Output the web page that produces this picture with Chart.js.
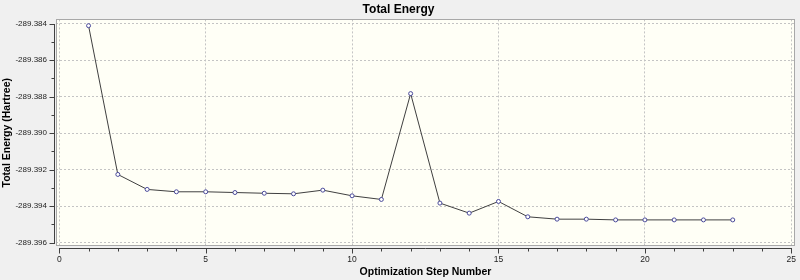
<!DOCTYPE html>
<html><head><meta charset="utf-8">
<script src="https://cdn.jsdelivr.net/npm/chart.js@4/dist/chart.umd.min.js"></script>
<style>html,body{margin:0;padding:0;background:#f0f0f0;}canvas{display:block;}</style>
</head><body>
<canvas id="c" width="800" height="280"></canvas>
<script>
const steps = [1,2,3,4,5,6,7,8,9,10,11,12,13,14,15,16,17,18,19,20,21,22,23];
const energies = [-289.38411,-289.39226,-289.39308,-289.39321,-289.39321,-289.39325,-289.39329,-289.39332,-289.39312,-289.39343,-289.39363,-289.38783,-289.39383,-289.39438,-289.39374,-289.39458,-289.39471,-289.39471,-289.39475,-289.39475,-289.39475,-289.39475,-289.39475];
const xTicks = [0,1,2,3,4,5,6,7,8,9,10,11,12,13,14,15,16,17,18,19,20,21,22,23,24,25];
const yTicks = [-289.396,-289.395,-289.394,-289.393,-289.392,-289.391,-289.390,-289.389,-289.388,-289.387,-289.386,-289.385,-289.384];
const xRange = [-0.112, 25.126];
const yRange = [-289.39618, -289.383765];
const chartTitle = 'Total Energy';
const xTitle = 'Optimization Step Number';
const yTitle = 'Total Energy (Hartree)';

const FONT = '"Liberation Sans", Arial, sans-serif';
const isMajorX = v => Math.round(v) % 5 === 0;
const isMajorY = v => Math.abs(Math.round(v * 1000)) % 2 === 0;

const framePlugin = {
  id: 'frame',
  beforeDraw(chart) {
    const {ctx, chartArea: a} = chart;
    ctx.save();
    ctx.fillStyle = '#f0f0f0';
    ctx.fillRect(0, 0, chart.width, chart.height);
    ctx.fillStyle = '#fffff6';
    ctx.fillRect(a.left, a.top, a.right - a.left, a.bottom - a.top);
    ctx.restore();
  },
  afterDraw(chart) {
    const {ctx, chartArea: a, scales: {x, y}} = chart;
    ctx.save();
    ctx.lineWidth = 1;
    ctx.strokeStyle = '#a8a8a8';
    ctx.strokeRect(Math.round(a.left) + 0.5, Math.round(a.top) + 0.5,
                   Math.round(a.right - a.left) - 1, Math.round(a.bottom - a.top) - 1);
    ctx.strokeStyle = '#404040';
    // x axis
    const ay = Math.round(a.bottom) + 2.5;
    ctx.beginPath();
    ctx.moveTo(Math.round(x.getPixelForValue(xTicks[0])), ay);
    ctx.lineTo(Math.round(x.getPixelForValue(xTicks[xTicks.length - 1])) + 1, ay);
    xTicks.forEach(v => {
      const px = Math.round(x.getPixelForValue(v)) + 0.5;
      ctx.moveTo(px, ay);
      ctx.lineTo(px, ay + (isMajorX(v) ? 5 : 3));
    });
    ctx.stroke();
    // y axis
    const ax = Math.round(a.left) - 1.5;
    ctx.beginPath();
    ctx.moveTo(ax, Math.round(y.getPixelForValue(yTicks[0])) + 1);
    ctx.lineTo(ax, Math.round(y.getPixelForValue(yTicks[yTicks.length - 1])));
    yTicks.forEach(v => {
      const py = Math.round(y.getPixelForValue(v)) + 0.5;
      ctx.moveTo(ax, py);
      ctx.lineTo(ax - (isMajorY(v) ? 5 : 3), py);
    });
    ctx.stroke();
    ctx.restore();
  }
};

new Chart(document.getElementById('c'), {
  type: 'line',
  data: {
    datasets: [{
      data: steps.map((s, i) => ({x: s, y: energies[i]})),
      borderColor: '#404040',
      borderWidth: 1,
      tension: 0,
      pointRadius: 2,
      pointBorderWidth: 1,
      pointBorderColor: '#4a4a9a',
      pointBackgroundColor: '#ffffff'
    }]
  },
  options: {
    responsive: false,
    animation: false,
    layout: {padding: {top: 0, right: 3, bottom: 0, left: 0}},
    plugins: {
      legend: {display: false},
      tooltip: {enabled: false},
      title: {
        display: true, text: chartTitle, color: '#000',
        font: {family: FONT, size: 12, weight: 'bold'},
        padding: {top: 2, bottom: 3}
      }
    },
    scales: {
      x: {
        type: 'linear', min: xRange[0], max: xRange[1],
        afterBuildTicks: s => { s.ticks = xTicks.map(v => ({value: v})); },
        afterFit: s => { s.height = 34; },
        border: {display: false, dash: [2, 2]},
        grid: {
          color: c => (c.tick && isMajorX(c.tick.value)) ? '#c4c4c4' : 'rgba(0,0,0,0)',
          lineWidth: 1, tickLength: 6, tickColor: 'rgba(0,0,0,0)'
        },
        ticks: {
          autoSkip: false, maxRotation: 0, padding: 3, color: '#1e1e1e',
          font: {family: FONT, size: 8.5},
          callback: v => isMajorX(v) ? String(v) : ''
        },
        title: {
          display: true, text: xTitle, color: '#000',
          font: {family: FONT, size: 10.5, weight: 'bold'},
          padding: {top: 0, bottom: 2}
        }
      },
      y: {
        type: 'linear', min: yRange[0], max: yRange[1],
        afterBuildTicks: s => { s.ticks = yTicks.map(v => ({value: v})); },
        afterFit: s => { s.width = 56; },
        border: {display: false, dash: [2, 2]},
        grid: {
          color: c => (c.tick && isMajorY(c.tick.value)) ? '#c4c4c4' : 'rgba(0,0,0,0)',
          lineWidth: 1, tickLength: 6, tickColor: 'rgba(0,0,0,0)'
        },
        ticks: {
          autoSkip: false, padding: 3, color: '#1e1e1e',
          font: {family: FONT, size: 8},
          callback: v => isMajorY(v) ? v.toFixed(3) : ''
        },
        title: {
          display: true, text: yTitle, color: '#000',
          font: {family: FONT, size: 10.5, weight: 'bold'},
          padding: {top: 1, bottom: 0}
        }
      }
    }
  },
  plugins: [framePlugin]
});
</script>
</body></html>
